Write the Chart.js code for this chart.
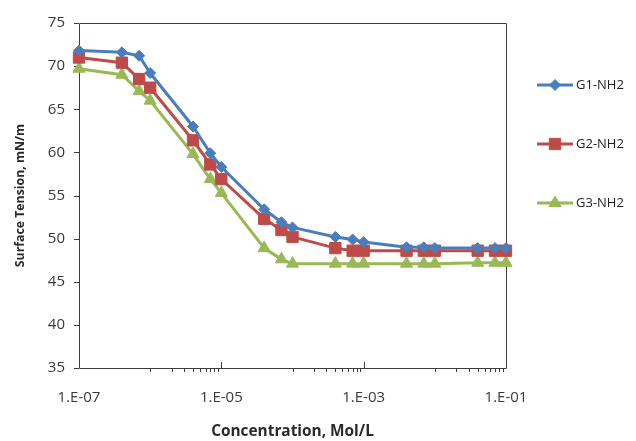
<!DOCTYPE html>
<html>
<head>
<meta charset="utf-8">
<script src="https://cdn.jsdelivr.net/npm/chart.js@4/dist/chart.umd.min.js"></script>
<style>
html,body{margin:0;padding:0;background:#fff;}
canvas{display:block;}
</style>
</head>
<body>
<canvas id="c" width="636" height="441"></canvas>
<script>
// ---- data ----
const concentrations = [1e-7, 4e-7, 7e-7, 1e-6, 4e-6, 7e-6, 1e-5, 4e-5, 7e-5, 1e-4, 4e-4, 7e-4, 1e-3, 4e-3, 7e-3, 1e-2, 4e-2, 7e-2, 1e-1];
const g1 = [71.8, 71.6, 71.2, 69.2, 63.0, 59.9, 58.3, 53.4, 51.9, 51.3, 50.2, 49.9, 49.6, 49.0, 49.0, 48.9, 48.9, 48.9, 48.9];
const g2 = [71.0, 70.4, 68.5, 67.5, 61.4, 58.6, 56.9, 52.3, 51.0, 50.2, 48.9, 48.6, 48.6, 48.6, 48.6, 48.6, 48.6, 48.6, 48.6];
const g3 = [69.7, 69.0, 67.1, 66.0, 59.8, 56.9, 55.3, 48.9, 47.6, 47.1, 47.1, 47.1, 47.1, 47.1, 47.1, 47.1, 47.2, 47.2, 47.2];
const seriesNames = ['G1-NH2', 'G2-NH2', 'G3-NH2'];
const xTickValues = [1e-7, 1e-5, 1e-3, 1e-1];
const xTickLabels = ['1.E-07', '1.E-05', '1.E-03', '1.E-01'];
const xMinorTicks = [1e-6,2e-6,3e-6,4e-6,5e-6,6e-6,7e-6,8e-6,9e-6,1e-4,2e-4,3e-4,4e-4,5e-4,6e-4,7e-4,8e-4,9e-4,1e-2,2e-2,3e-2,4e-2,5e-2,6e-2,7e-2,8e-2,9e-2];
const yTickValues = [35, 40, 45, 50, 55, 60, 65, 70, 75];

const toPts = arr => arr.map((v, i) => ({x: concentrations[i], y: v}));
const AXIS = '#3c3c3c';

const framePlugin = {
  id: 'frame',
  beforeDatasetsDraw(chart) {
    const {ctx, chartArea: a, scales: {x, y}} = chart;
    ctx.save();
    ctx.strokeStyle = AXIS;
    ctx.lineWidth = 1;
    ctx.beginPath();
    ctx.rect(Math.round(a.left) + 0.5, Math.round(a.top) + 0.5, Math.round(a.right - a.left), Math.round(a.bottom - a.top));
    ctx.stroke();
    ctx.beginPath();
    yTickValues.forEach(v => {
      const py = Math.round(y.getPixelForValue(v)) + 0.5;
      ctx.moveTo(a.left - 5, py); ctx.lineTo(a.left, py);
    });
    xTickValues.forEach(v => {
      const px = Math.round(x.getPixelForValue(v)) + 0.5;
      ctx.moveTo(px, a.bottom); ctx.lineTo(px, a.bottom - 6);
    });
    xMinorTicks.forEach(v => {
      const px = Math.round(x.getPixelForValue(v)) + 0.5;
      ctx.moveTo(px, a.bottom); ctx.lineTo(px, a.bottom + 4);
    });
    ctx.stroke();
    ctx.restore();
  },
  afterDraw(chart) {
    const {ctx} = chart;
    const legendY = [85, 144, 203];
    ctx.save();
    chart.data.datasets.forEach((ds, i) => {
      const yy = legendY[i];
      ctx.strokeStyle = ds.borderColor;
      ctx.lineWidth = 3;
      ctx.beginPath();
      ctx.moveTo(537, yy); ctx.lineTo(573, yy);
      ctx.stroke();
      ctx.fillStyle = ds.pointBackgroundColor;
      ctx.strokeStyle = ds.pointBorderColor;
      ctx.lineWidth = 1;
      Chart.helpers.drawPoint(ctx, {pointStyle: ds.pointStyle, radius: ds.pointRadius, borderWidth: 1, rotation: 0}, 555, yy);
      ctx.fillStyle = '#1f1f1f';
      ctx.font = '13px "Open Sans"';
      ctx.textBaseline = 'middle';
      ctx.textAlign = 'left';
      ctx.fillText(ds.label, 576, yy);
    });
    ctx.restore();
  }
};

const mk = (label, data, color, style, r) => ({
  label, data: toPts(data),
  borderColor: color, backgroundColor: color,
  pointBackgroundColor: color, pointBorderColor: color,
  borderWidth: 3, pointStyle: style, pointRadius: r, pointHoverRadius: r,
  pointBorderWidth: 1, tension: 0, clip: false
});

new Chart(document.getElementById('c'), {
  type: 'line',
  data: {
    datasets: [
      mk(seriesNames[0], g1, '#4a7ebb', 'rectRot', 5.5),
      mk(seriesNames[1], g2, '#be4b48', 'rect', 8),
      mk(seriesNames[2], g3, '#98b954', 'triangle', 7)
    ]
  },
  options: {
    responsive: false,
    animation: false,
    devicePixelRatio: 1,
    layout: {padding: {top: 19, right: 130, left: 0, bottom: 0}},
    plugins: {legend: {display: false}, tooltip: {enabled: false}},
    scales: {
      x: {
        type: 'logarithmic', min: 1e-7, max: 1e-1,
        afterBuildTicks: s => { s.ticks = xTickValues.map(v => ({value: v})); },
        afterFit: s => { s.height = 73; },
        grid: {display: false, drawTicks: false},
        border: {display: false},
        ticks: {
          autoSkip: false, maxRotation: 0, padding: 21, color: '#3a3a3a',
          font: {family: '"Open Sans"', size: 15},
          callback: (v) => { const i = xTickValues.indexOf(v); return i >= 0 ? xTickLabels[i] : ''; }
        },
        title: {display: true, text: 'Concentration, Mol/L', color: '#2a2a2a',
          font: {family: '"Open Sans"', size: 15.4, weight: 'bold'}, padding: {top: 0, bottom: 0}}
      },
      y: {
        min: 35, max: 75,
        afterBuildTicks: s => { s.ticks = yTickValues.map(v => ({value: v})); },
        afterFit: s => { s.width = 79; },
        grid: {display: false, drawTicks: false},
        border: {display: false},
        ticks: {padding: 14, color: '#3a3a3a', font: {family: '"Open Sans"', size: 15}},
        title: {display: true, text: 'Surface Tension, mN/m', color: '#2a2a2a',
          font: {family: '"Open Sans"', size: 12.3, weight: 'bold'}, padding: {top: 13, bottom: 0}}
      }
    }
  },
  plugins: [framePlugin]
});
</script>
</body>
</html>
